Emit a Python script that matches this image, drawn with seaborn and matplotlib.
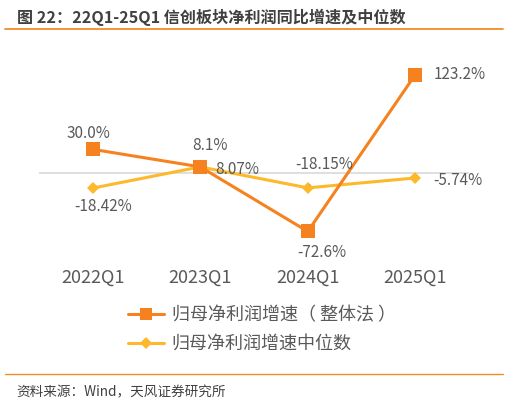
import pandas as pd
import seaborn as sns
import matplotlib.pyplot as plt
from matplotlib.lines import Line2D

# Chart data
quarters = ["2022Q1", "2023Q1", "2024Q1", "2025Q1"]
total_growth = [30.0, 8.1, -72.6, 123.2]
median_growth = [-18.42, 8.07, -18.15, -5.74]
total_labels = ["30.0%", "8.1%", "-72.6%", "123.2%"]
median_labels = ["-18.42%", "8.07%", "-18.15%", "-5.74%"]
series_names = ["归母净利润增速（ 整体法 ）", "归母净利润增速中位数"]

ORANGE = "#F5821F"
YELLOW = "#FDB92B"
GREY = "#595959"

df = pd.DataFrame({"quarter": quarters, "total": total_growth, "median": median_growth})

sns.set_style("white")
plt.rcParams["font.family"] = ["Noto Sans CJK SC", "DejaVu Sans"]

W, H = 508, 404
fig = plt.figure(figsize=(W / 100, H / 100), dpi=100)
# axes placed in pixel terms: left 39, right 469, top 60, bottom 255
ax = fig.add_axes([39 / W, 1 - 255 / H, (469 - 39) / W, (255 - 60) / H])

sns.lineplot(data=df, x="quarter", y="median", color=YELLOW, marker="D",
             markersize=6, markeredgewidth=0, linewidth=2.2, ax=ax, sort=False)
sns.lineplot(data=df, x="quarter", y="total", color=ORANGE, marker="s",
             markersize=10, markeredgewidth=0, linewidth=2.2, ax=ax, sort=False)

ax.set_xlim(-0.5, 3.5)
ax.set_ylim(-102, 141.6)
ax.axhline(0, color="#D9D9D9", linewidth=1.2, zorder=0)
for s in ax.spines.values():
    s.set_visible(False)
ax.set_yticks([])
ax.set_xlabel("")
ax.set_ylabel("")
ax.tick_params(axis="x", length=0, pad=10, labelsize=13, labelcolor=GREY)

lab_kw = dict(textcoords="offset pixels", fontsize=11, color=GREY)
# orange series labels
ax.annotate(total_labels[0], (0, total_growth[0]), xytext=(-4, 16), ha="center", va="center", **lab_kw)
ax.annotate(total_labels[1], (1, total_growth[1]), xytext=(10, 21), ha="center", va="center", **lab_kw)
ax.annotate(total_labels[2], (2, total_growth[2]), xytext=(14, -21), ha="center", va="center", **lab_kw)
ax.annotate(total_labels[3], (3, total_growth[3]), xytext=(18, 0), ha="left", va="center", **lab_kw)
# yellow series labels
ax.annotate(median_labels[0], (0, median_growth[0]), xytext=(10, -18), ha="center", va="center", **lab_kw)
ax.annotate(median_labels[1], (1, median_growth[1]), xytext=(15, -3), ha="left", va="center", **lab_kw)
ax.annotate(median_labels[2], (2, median_growth[2]), xytext=(16, 23), ha="center", va="center",
            arrowprops=dict(arrowstyle="-", color="#A6A6A6", lw=0.8, shrinkA=7, shrinkB=2), **lab_kw)
ax.annotate(median_labels[3], (3, median_growth[3]), xytext=(18, -3), ha="left", va="center", **lab_kw)

# legend
handles = [
    Line2D([], [], color=ORANGE, marker="s", markersize=9, markeredgewidth=0, linewidth=2.2),
    Line2D([], [], color=YELLOW, marker="D", markersize=6, markeredgewidth=0, linewidth=2.2),
]
fig.legend(handles, series_names, loc="upper left", bbox_to_anchor=(112 / W, 1 - 290 / H),
           frameon=False, fontsize=13, labelcolor=GREY, handlelength=2.0,
           handletextpad=0.4, labelspacing=0.6)

# title and source
fig.text(17 / W, 1 - 17 / H, "图 22：22Q1-25Q1 信创板块净利润同比增速及中位数", fontsize=11.6,
         fontweight="bold", color="#404040", ha="left", va="center")
fig.add_artist(Line2D([5 / W, 503 / W], [1 - 29 / H] * 2, color="#F28C28", linewidth=1.3))
fig.add_artist(Line2D([5 / W, 503 / W], [1 - 374 / H] * 2, color="#F28C28", linewidth=1.0))
fig.text(16 / W, 1 - 392 / H, "资料来源：Wind，天风证券研究所", fontsize=9.8,
         color="#404040", ha="left", va="center")

fig.savefig("out.png", dpi=100)
